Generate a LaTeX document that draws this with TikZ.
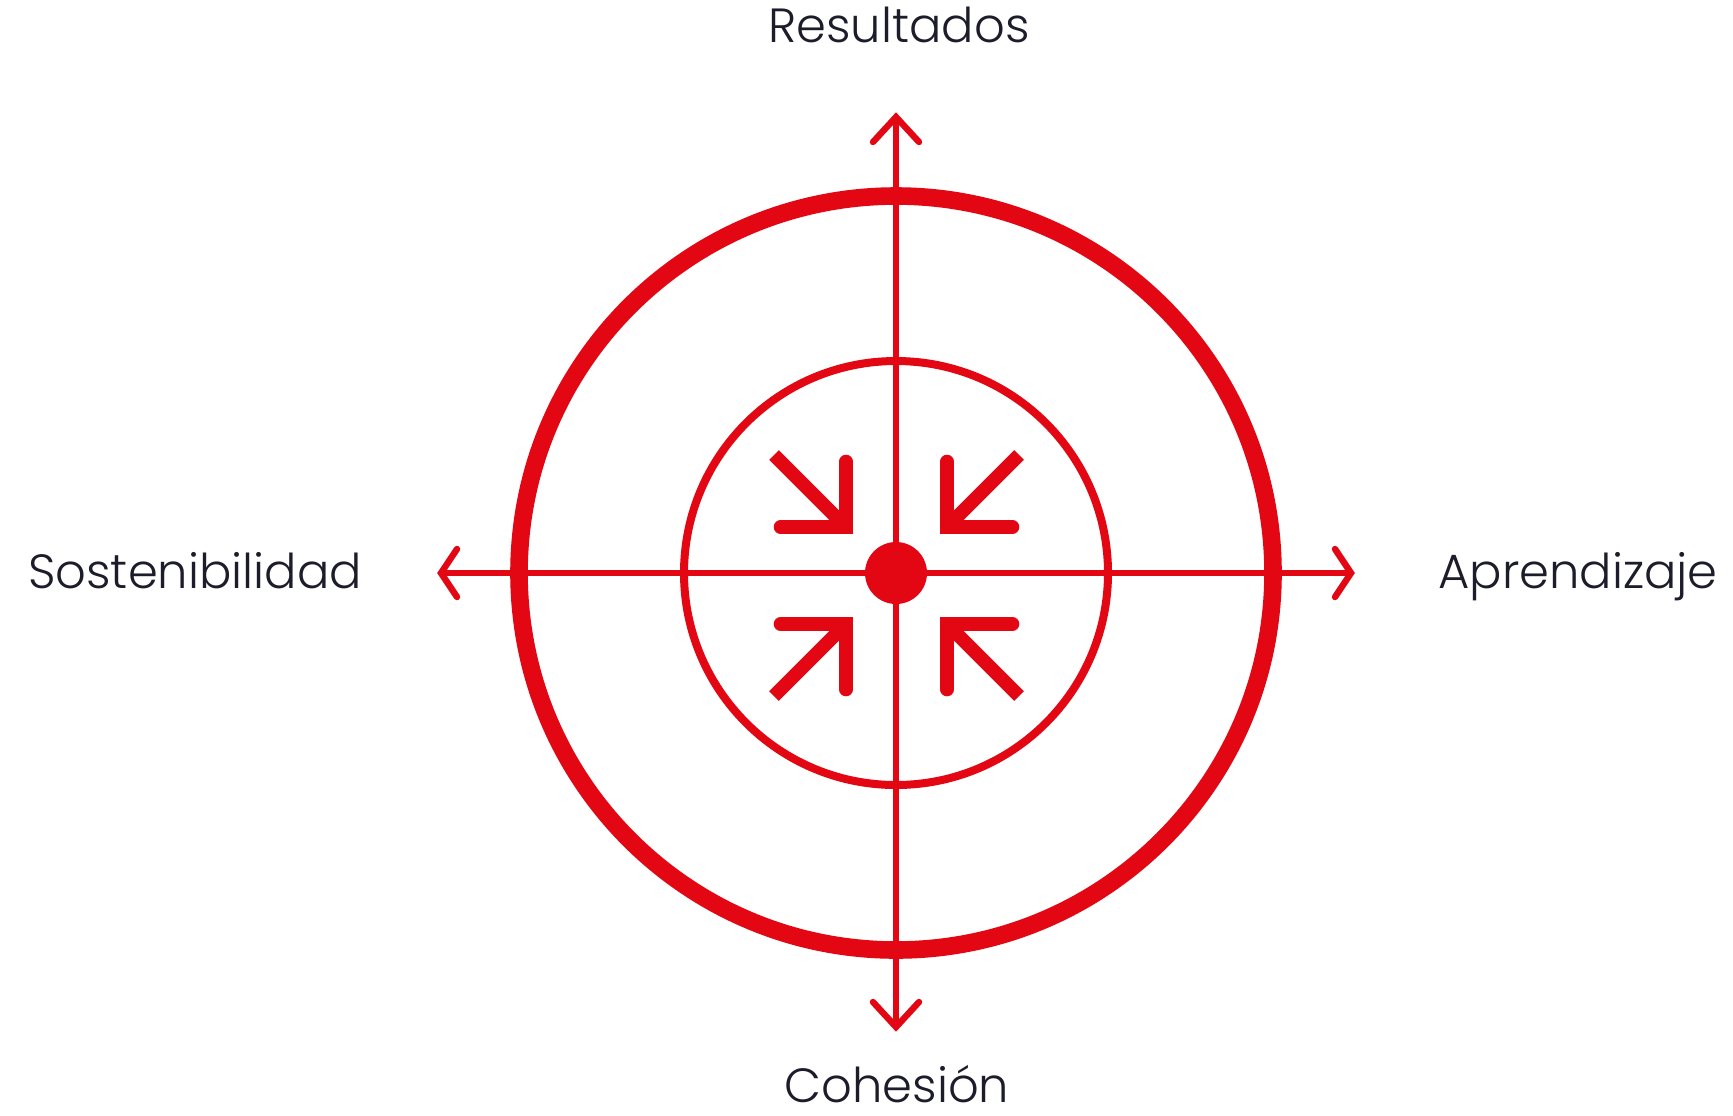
\documentclass[tikz,border=0pt]{standalone}
\usepackage{fontspec}
\setmainfont{Poppins}[UprightFont=* Light]
\definecolor{myred}{HTML}{E30613}
\definecolor{mytext}{HTML}{1C1C2B}
\begin{document}
\begin{tikzpicture}[x=0.5pt,y=-0.5pt,
  axis/.style={draw=myred,line width=3.2pt},
  tipline/.style={draw=myred,line width=3.2pt,line cap=round,line join=miter},
  ring/.style={draw=myred,line width=8.8pt},
  thinring/.style={draw=myred,line width=4pt},
  bar/.style={draw=myred,line width=6.8pt,line cap=round,line join=miter},
  shaft/.style={draw=myred,line width=6.8pt,line cap=butt},
  label/.style={text=mytext,font=\fontsize{24}{26}\selectfont,anchor=base,inner sep=0pt}]
\useasboundingbox (0,0) rectangle (1733,1115);
\fill[white] (0,0) rectangle (1733,1115);
\coordinate (C) at (896,573);
\coordinate (T) at (896,117);
\coordinate (B) at (896,1027);
\coordinate (L) at (441,573);
\coordinate (R) at (1351,573);
% rings
\draw[ring] (C) circle[radius=377];
\draw[thinring] (C) circle[radius=212];
% axes
\draw[axis] (L) -- (R);
\draw[axis] (T) -- (B);
% axis arrowheads
\draw[tipline] (T) ++(-23,25) -- (T) -- ++(23,25);
\draw[tipline] (B) ++(-23,-25) -- (B) -- ++(23,-25);
\draw[tipline] (L) ++(16,-24) -- (L) -- ++(16,24);
\draw[tipline] (R) ++(-16,-24) -- (R) -- ++(-16,24);
% centre dot
\fill[myred] (C) circle[radius=31];
% inward arrows
\coordinate (TLv) at (846,527);
\coordinate (TRv) at (947,527);
\coordinate (BLv) at (846,624);
\coordinate (BRv) at (947,624);
\draw[shaft] (TLv) -- ++(-72,-72);
\draw[bar] (TLv) ++(0,-65.5) -- (TLv) -- ++(-65.5,0);
\draw[shaft] (TRv) -- ++(72,-72);
\draw[bar] (TRv) ++(0,-65.5) -- (TRv) -- ++(65.5,0);
\draw[shaft] (BLv) -- ++(-72,72);
\draw[bar] (BLv) ++(0,65.5) -- (BLv) -- ++(-65.5,0);
\draw[shaft] (BRv) -- ++(72,72);
\draw[bar] (BRv) ++(0,65.5) -- (BRv) -- ++(65.5,0);
% labels
\node[label] (res) at (899,42) {Resultados};
\node[label] (sos) at (195,588) {Sostenibilidad};
\node[label] (apr) at (1578,588) {Aprendizaje};
\node[label,text depth=0pt] (coh) at (897,1102) {Cohesión};
\end{tikzpicture}
\end{document}
